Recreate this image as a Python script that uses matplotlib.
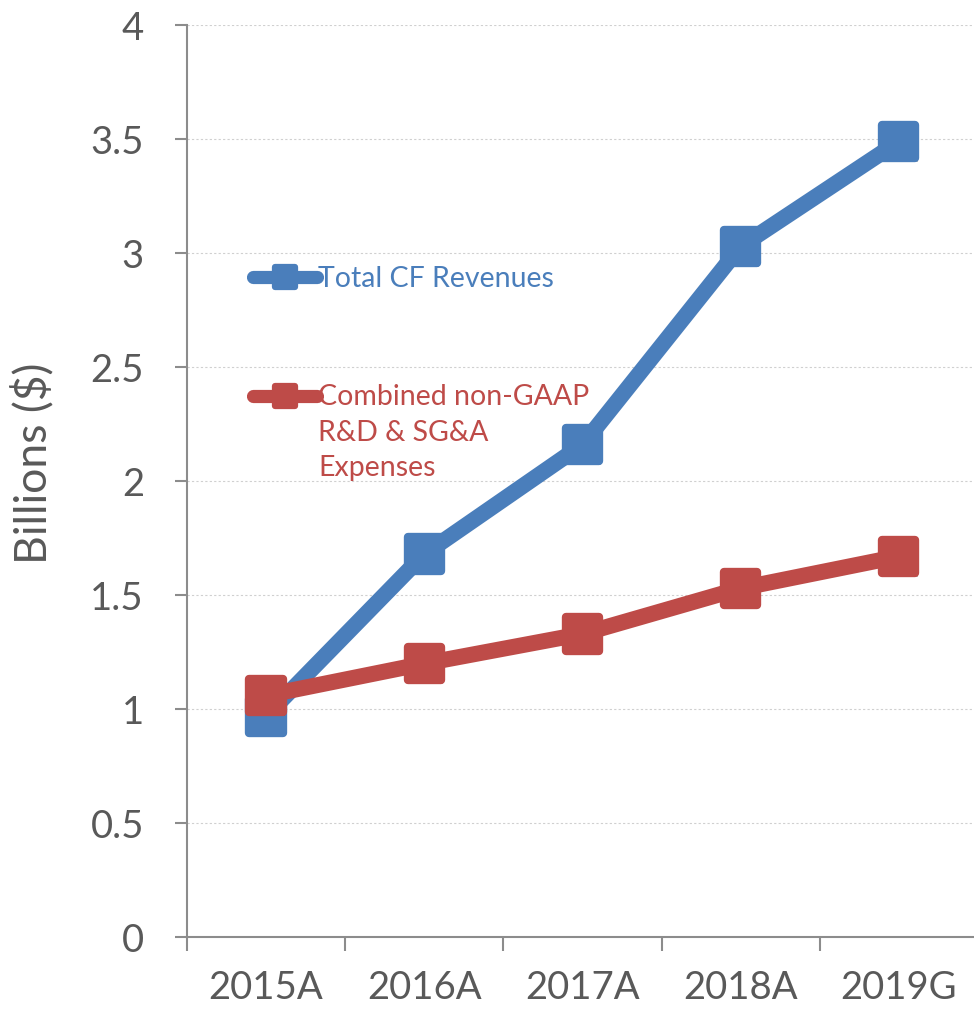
import matplotlib
matplotlib.use("Agg")
import matplotlib.pyplot as plt
from matplotlib.markers import MarkerStyle
from matplotlib.lines import Line2D
import matplotlib.patheffects as pe
import numpy as np

# ---------- data ----------
years = ["2015A", "2016A", "2017A", "2018A", "2019G"]
revenues = [0.97, 1.68, 2.16, 3.03, 3.49]        # Total CF Revenues
expenses = [1.06, 1.20, 1.33, 1.53, 1.67]        # Combined non-GAAP R&D & SG&A
rev_label = "Total CF Revenues"
exp_label = "Combined non-GAAP\nR&D & SG&A\nExpenses"

BLUE, RED, GREY = "#4A7EBB", "#BE4B48", "#595959"
plt.rcParams["font.family"] = ["Lato", "DejaVu Sans"]

fig = plt.figure(figsize=(9.74, 10.15), dpi=100)
ax = fig.add_axes([0.192, 0.0768, 0.812, 0.8982])   # right edge runs slightly off the canvas
x = np.arange(len(years))

sq = MarkerStyle("s", joinstyle="round")
shadow = [pe.SimplePatchShadow(offset=(1.5, -2.5), alpha=0.25, shadow_rgbFace="k"), pe.Normal()]

for vals, c, z in [(revenues, BLUE, 3), (expenses, RED, 4)]:
    ax.plot(x, vals, color=c, lw=11.5, solid_joinstyle="round", solid_capstyle="round", zorder=z)
    ax.plot(x, vals, ls="none", marker=sq, ms=24, mew=6, mfc=c, mec=c, zorder=z,
            path_effects=shadow)

ax.set_xlim(-0.5, len(years) - 0.5)
ax.set_ylim(0, 4)
ax.set_yticks(np.arange(0, 4.01, 0.5))
ax.set_yticklabels(["0", "0.5", "1", "1.5", "2", "2.5", "3", "3.5", "4"])
ax.set_xticks(x)
ax.set_xticklabels(years)
ax.set_xticks(np.arange(-0.5, len(years)), minor=True)
ax.tick_params(axis="x", which="major", length=0, pad=24, labelsize=27.5, labelcolor=GREY)
ax.tick_params(axis="x", which="minor", length=10, width=1.5, color="#8C8C8C")
ax.tick_params(axis="y", length=9, width=1.5, color="#8C8C8C", pad=22, labelsize=27.5, labelcolor=GREY)

ax.grid(axis="y", ls=(0, (2, 2)), color="#D0D0D0", lw=0.8)
ax.set_axisbelow(True)
for s in ["top", "right"]:
    ax.spines[s].set_visible(False)
for s in ["left", "bottom"]:
    ax.spines[s].set_color("#8C8C8C")
    ax.spines[s].set_linewidth(1.5)

ax.set_ylabel("Billions ($)", fontsize=32, color=GREY)
ax.yaxis.set_label_coords(-0.167, 0.52)

# ---------- in-plot legend ----------
for (ly, c, lab) in [(0.724, BLUE, rev_label), (0.594, RED, exp_label)]:
    ax.add_line(Line2D([0.083, 0.164], [ly, ly], transform=ax.transAxes, color=c, lw=9.5,
                       solid_capstyle="round", zorder=5))
    ax.add_line(Line2D([0.124], [ly], transform=ax.transAxes, ls="none", marker=sq, ms=15,
                       mew=4.5, mfc=c, mec=c, zorder=5))
    ax.annotate(lab, (0.166, ly), xycoords="axes fraction", xytext=(0, 8),
                textcoords="offset points", color=c, fontsize=20.5, va="top", ha="left",
                linespacing=1.45)

fig.savefig("out.png", dpi=100)
